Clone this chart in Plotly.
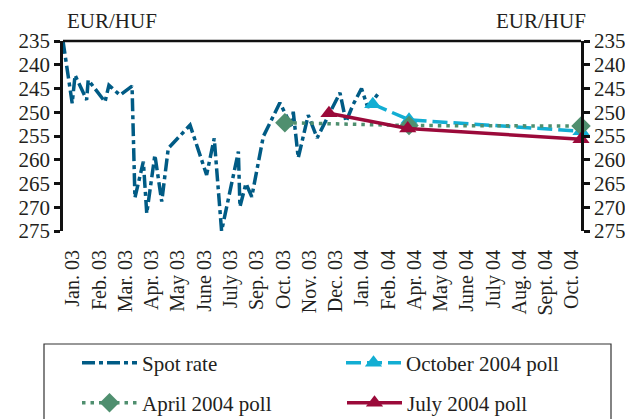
import plotly.graph_objects as go

# ---- data ----
month_labels = ["Jan. 03", "Feb. 03", "Mar. 03", "Apr. 03", "May 03", "June 03",
                "July 03", "Sep. 03", "Oct. 03", "Nov. 03", "Dec. 03", "Jan. 04",
                "Feb. 04", "Apr. 04", "May 04", "June 04", "July 04", "Aug. 04",
                "Sept. 04", "Oct. 04"]
label_pos = list(range(len(month_labels)))

# spot rate (position on the label scale, EUR/HUF)
spot_x = [-0.38, -0.03, 0.08, 0.52, 0.58, 1.22, 1.37, 1.79, 2.25, 2.36, 2.68, 2.81,
          3.12, 3.38, 3.63, 4.46, 5.09, 5.38, 5.66, 6.30, 6.36, 6.59, 6.81, 7.25,
          7.88, 8.33, 8.39, 8.58, 8.96, 9.30, 10.17, 10.40, 10.66, 10.99, 11.23, 11.69]
spot_y = [235.0, 248.1, 242.2, 247.4, 243.2, 247.8, 244.3, 246.4, 244.5, 268.0, 260.4, 271.3,
          259.0, 268.8, 257.6, 252.7, 263.2, 255.5, 275.0, 258.3, 269.9, 265.0, 267.8, 255.1,
          248.0, 253.0, 249.9, 259.6, 250.6, 255.4, 245.9, 252.0, 248.5, 245.0, 249.0, 245.6]

apr_x = [8.07, 12.8, 19.35]
apr_y = [252.2, 252.8, 252.9]

oct_x = [11.42, 12.8, 19.35]
oct_y = [248.3, 251.6, 254.0]

jul_x = [9.75, 12.75, 19.35]
jul_y = [250.2, 253.4, 255.7]

y_ticks = [235, 240, 245, 250, 255, 260, 265, 270, 275]

# ---- styles ----
FONT = "Liberation Serif"
TXT = "#231f20"
C_SPOT = "#005b85"
C_OCT = "#12aed3"
C_APR = "#4f8f6f"
C_JUL = "#9b0a3a"

fig = go.Figure()

fig.add_trace(go.Scatter(
    x=spot_x, y=spot_y, mode="lines", name="Spot rate",
    line=dict(color=C_SPOT, width=3.5, dash="13px,4px,4px,4px"),
    legend="legend", cliponaxis=False))

fig.add_trace(go.Scatter(
    x=oct_x, y=oct_y, mode="lines+markers", name="October 2004 poll",
    line=dict(color=C_OCT, width=3.5, dash="15px,6px"),
    marker=dict(symbol="triangle-up", size=15, color=C_OCT),
    legend="legend2", cliponaxis=False))

fig.add_trace(go.Scatter(
    x=apr_x, y=apr_y, mode="lines+markers", name="April 2004 poll",
    line=dict(color=C_APR, width=3.5, dash="3.5px,5px"),
    marker=dict(symbol="diamond", size=15, color=C_APR),
    legend="legend3", cliponaxis=False))

fig.add_trace(go.Scatter(
    x=jul_x, y=jul_y, mode="lines+markers", name="July 2004 poll",
    line=dict(color=C_JUL, width=3.5),
    marker=dict(symbol="triangle-up", size=15, color=C_JUL),
    legend="legend4", cliponaxis=False))

# dummy trace to carry the right-hand axis
fig.add_trace(go.Scatter(x=[None], y=[None], yaxis="y2", showlegend=False,
                         hoverinfo="skip"))

axis_common = dict(
    range=[275, 235], tickvals=y_ticks, ticks="outside", ticklen=6, tickwidth=2.5,
    tickcolor="#111", showline=True, linecolor="#111", linewidth=2.5,
    showgrid=False, zeroline=False, automargin=False,
    tickfont=dict(family=FONT, size=21, color=TXT))


def legend_at(x_px, y_px):
    return dict(orientation="h", xref="container", yref="container",
                x=x_px / 625, y=1 - y_px / 419, xanchor="left", yanchor="middle",
                itemwidth=55, bgcolor="rgba(0,0,0,0)",
                font=dict(family=FONT, size=21, color=TXT))


fig.update_layout(
    width=625, height=419,
    margin=dict(l=63, r=44, t=41, b=188, autoexpand=False),
    paper_bgcolor="white", plot_bgcolor="white",
    font=dict(family=FONT, color=TXT),
    xaxis=dict(range=[-0.38, 19.35], tickvals=label_pos, ticktext=month_labels,
               tickangle=-90, ticks="", showline=False, showgrid=False,
               zeroline=False, automargin=False, ticklabelstandoff=14,
               tickfont=dict(family=FONT, size=20, color=TXT)),
    yaxis=dict(**axis_common, side="left"),
    yaxis2=dict(**axis_common, side="right", overlaying="y", anchor="x"),
    legend=legend_at(77, 363),
    legend2=legend_at(341, 363),
    legend3=legend_at(77, 403),
    legend4=legend_at(342, 403),
    shapes=[
        dict(type="line", xref="paper", yref="paper", x0=0, x1=1, y0=1, y1=1,
             line=dict(color="#111", width=2.5)),
        dict(type="rect", xref="paper", yref="paper",
             x0=(44 - 63) / 518, x1=(611 - 63) / 518,
             y0=(231 - 421) / 190, y1=(231 - 344) / 190,
             line=dict(color="#333", width=1.2)),
    ],
    annotations=[
        dict(text="EUR/HUF", xref="paper", yref="paper", x=(65 - 63) / 518,
             y=(231 - 21) / 190, xanchor="left", yanchor="middle", showarrow=False,
             font=dict(family=FONT, size=21, color=TXT)),
        dict(text="EUR/HUF", xref="paper", yref="paper", x=(588 - 63) / 518,
             y=(231 - 21) / 190, xanchor="right", yanchor="middle", showarrow=False,
             font=dict(family=FONT, size=21, color=TXT)),
    ],
)

fig.write_html("out.html", config={"displayModeBar": False},
               post_script="document.body.style.margin='0px';")
